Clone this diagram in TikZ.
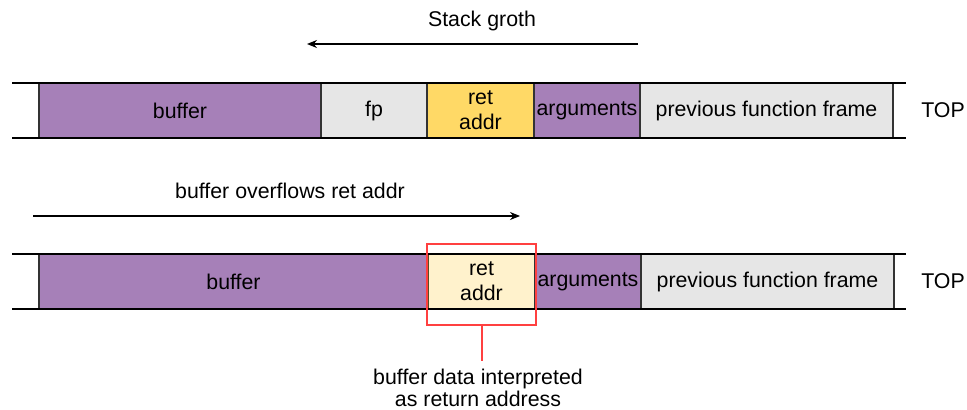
\documentclass[tikz,border=0pt]{standalone}
\usepackage{fontspec}
\setmainfont{Liberation Sans}
\usetikzlibrary{positioning,arrows.meta}
\definecolor{bufpurple}{HTML}{A680B8}
\definecolor{fpgray}{HTML}{E6E6E6}
\definecolor{retgold}{HTML}{FFD966}
\definecolor{retpale}{HTML}{FFF2CC}
\definecolor{markred}{HTML}{FF4040}
\begin{document}
\begin{tikzpicture}[x=0.75pt,y=-0.75pt,
    every node/.style={font=\fontsize{16}{18.75}\selectfont},
    cell/.style={draw=black!80, line width=1.1pt, minimum height=41.25pt, inner sep=0pt, outer sep=0pt, align=center},
    rail/.style={line width=1.5pt},
    growarrow/.style={line width=0.8pt, -{Stealth[length=7.5pt,width=6pt]}}]
        \useasboundingbox (0,0) rectangle (967,410);

        \coordinate (G1) at (638,44);
        \coordinate (G2) at (307,44);
        \coordinate (O1) at (33,216);
        \coordinate (O2) at (520,216);

        \node (grow) at (482,21) {Stack groth};
        \draw[growarrow] (G1) -- (G2);

        \node[cell, anchor=north west, fill=bufpurple, minimum width=211.5pt] (T1) at (39,83) {buffer};
        \node[cell, fill=fpgray, minimum width=79.5pt, right=0pt of T1] (T2) {fp};
        \node[cell, fill=retgold, minimum width=80.25pt, right=0pt of T2] (T3) {ret\\addr};
        \node[cell, fill=bufpurple, minimum width=79.5pt, right=0pt of T3] (T4) {arguments};
        \node[cell, fill=fpgray, minimum width=189.75pt, right=0pt of T4] (T5) {previous function frame};
        \node (top1) at (943,110) {TOP};

        \coordinate (R11) at (12,83);
        \coordinate (R12) at (906,83);
        \coordinate (R21) at (12,138);
        \coordinate (R22) at (906,138);
        \draw[rail] (R11) -- (R12);
        \draw[rail] (R21) -- (R22);

        \node (flow) at (290,191) {buffer overflows ret addr};
        \draw[growarrow] (O1) -- (O2);

        \node[cell, anchor=north west, fill=bufpurple, minimum width=291.75pt] (B1) at (39,254) {buffer};
        \node[cell, draw=black!65!retgold, fill=retpale, minimum width=80.25pt, right=0pt of B1] (B2) {ret\\addr};
        \node[cell, fill=bufpurple, minimum width=79.5pt, right=0pt of B2] (B3) {arguments};
        \node[cell, fill=fpgray, minimum width=189.75pt, right=0pt of B3] (B4) {previous function frame};
        \node (top2) at (943,281) {TOP};

        \coordinate (R31) at (12,254);
        \coordinate (R32) at (906,254);
        \coordinate (R41) at (12,309);
        \coordinate (R42) at (906,309);
        \draw[rail] (R31) -- (R32);
        \draw[rail] (R41) -- (R42);

        \node[draw=markred, line width=1pt, minimum width=81.75pt, minimum height=60.75pt, inner sep=0pt, outer sep=0pt] (mark) at (481.5,284.5) {};
        \node[align=center, font=\fontsize{16}{16.5}\selectfont] (note) at (478,388) {buffer data interpreted\\as return address};
        \coordinate (N1) at (482,361);
        \draw[color=markred, line width=1.4pt] (mark.south -| N1) -- (N1);
    \end{tikzpicture}
\end{document}
